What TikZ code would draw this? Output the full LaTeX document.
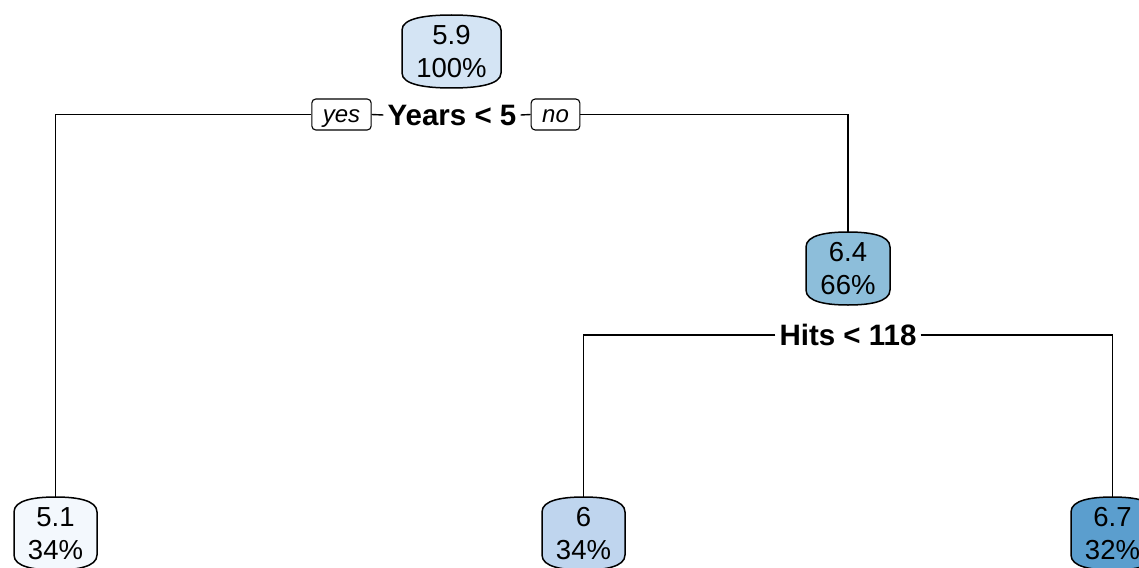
\documentclass[tikz,border=0pt]{standalone}
\usepackage{fontspec}
\setmainfont{Liberation Sans}
\definecolor{fillroot}{HTML}{D4E4F4}
\definecolor{fillright}{HTML}{8DBEDA}
\definecolor{fillleafa}{HTML}{F3F8FD}
\definecolor{fillleafb}{HTML}{BFD5EE}
\definecolor{fillleafc}{HTML}{5B9ECE}
% capsule-shaped tree node: name, x, y, half width, fill, text
\newcommand{\capsulebox}[6]{%
  \begin{scope}[shift={(#2,#3)}]
    \filldraw[capsule, fill=#5]
      (-#4,-21.5) .. controls (-#4,-33.5) and (-0.5*#4,-36.5) .. (0,-36.5)
      .. controls (0.5*#4,-36.5) and (#4,-33.5) .. (#4,-21.5)
      -- (#4,21.5) .. controls (#4,33.5) and (0.5*#4,36.5) .. (0,36.5)
      .. controls (-0.5*#4,36.5) and (-#4,33.5) .. (-#4,21.5) -- cycle;
  \end{scope}
  \node[boxtext, minimum width=2*#4] (#1) at (#2,#3) {#6};
}
\begin{document}
\begin{tikzpicture}[x=1pt,y=-1pt,
  boxtext/.style={inner sep=0pt, minimum height=73pt, align=center,
    font=\fontsize{27.5}{33}\selectfont},
  splitlabel/.style={inner sep=4pt, font=\bfseries\fontsize{29.5}{31}\selectfont},
  ynbox/.style={draw, line width=1.1pt, rounded corners=4pt, fill=white,
    minimum height=31pt, inner xsep=11pt, inner ysep=0pt,
    text height=19pt, text depth=4pt,
    font=\itshape\fontsize{24}{26}\selectfont},
  edge/.style={line width=1.4pt},
  capsule/.style={line width=1.5pt}]
\useasboundingbox (0,0) rectangle (1139,567);
\clip (0,0) rectangle (1139,567);

% nodes
\capsulebox{root}{451.5}{51.5}{49.5}{fillroot}{5.9\\100\%}
\capsulebox{right}{848}{268.5}{42}{fillright}{6.4\\66\%}
\capsulebox{leafa}{55.5}{533.5}{41.5}{fillleafa}{5.1\\34\%}
\capsulebox{leafb}{583.5}{533.5}{41.5}{fillleafb}{6\\34\%}
\capsulebox{leafc}{1112.5}{533.5}{41.5}{fillleafc}{6.7\\32\%}

% split labels
\node[splitlabel] (splita) at (452,115) {Years < 5};
\node[ynbox] (yes) at (341.5,114.5) {yes};
\node[ynbox] (no) at (555.5,114.5) {no};
\node[splitlabel] (splitb) at (848,335) {Hits < 118};

% connectors
\draw[edge] (yes.west) -| (leafa.north);
\draw[edge] (yes.east) -- (splita.west);
\draw[edge] (splita.east) -- (no.west);
\draw[edge] (no.east) -| (right.north);
\draw[edge] (splitb.west) -| (leafb.north);
\draw[edge] (splitb.east) -| (leafc.north);
\end{tikzpicture}
\end{document}
